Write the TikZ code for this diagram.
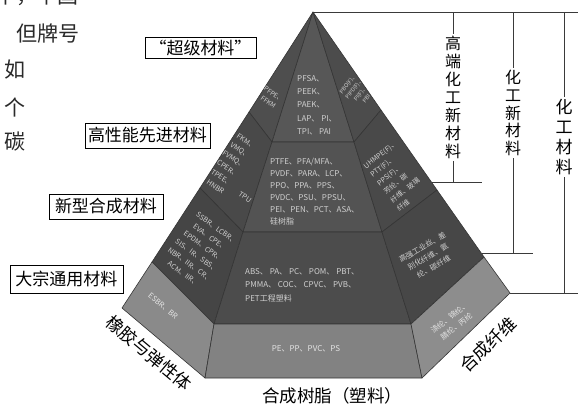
\documentclass[tikz,border=0pt]{standalone}
\usepackage{fontspec}
\setmainfont{Noto Sans CJK SC}
\usepackage{tikz}
\definecolor{edgec}{HTML}{353535}
\definecolor{txtc}{HTML}{D0D0D0}
\definecolor{lighttxt}{HTML}{E4E4E4}
\definecolor{brkc}{HTML}{3A3A3A}
\definecolor{bodytxt}{HTML}{2A2A2A}
\definecolor{fTl}{HTML}{4E4E4E}
\definecolor{fTf}{HTML}{575757}
\definecolor{fTr}{HTML}{4C4C4C}
\definecolor{fSl}{HTML}{494949}
\definecolor{fSf}{HTML}{535353}
\definecolor{fSr}{HTML}{494949}
\definecolor{fNl}{HTML}{454545}
\definecolor{fNf}{HTML}{4C4C4C}
\definecolor{fNr}{HTML}{474747}
\definecolor{fBl}{HTML}{8A8A8A}
\definecolor{fBf}{HTML}{828282}
\definecolor{fBr}{HTML}{8D8D8D}
\begin{document}
\begin{tikzpicture}[x=1pt,y=-1pt,
  face/.style={draw=edgec,line width=0.6pt,line join=round},
  ptxt/.style={text=txtc,inner sep=0pt,font=\fontsize{7.5}{10.5}\selectfont},
  ltxt/.style={text=lighttxt,inner sep=0pt,font=\fontsize{7.5}{10.5}\selectfont},
  lbl/.style={draw=black,line width=0.8pt,fill=white,inner sep=0pt,text=black,font=\fontsize{17}{17}\selectfont},
  vlbl/.style={align=center,inner sep=2pt,text=black,font=\fontsize{16}{17.9}\selectfont},
  brk/.style={draw=brkc,line width=0.9pt},
  bodyfrag/.style={text=bodytxt,inner sep=0pt,font=\fontsize{21}{21}\selectfont},
  sidelbl/.style={text=black,inner sep=0pt,font=\fontsize{17.5}{17.5}\selectfont}
]
\useasboundingbox (0,0) rectangle (582,408);
\fill[white] (0,0) rectangle (582,408);

% ---------- pyramid vertices ----------
\coordinate (A) at (313,12);
\coordinate (O1) at (249,112);
\coordinate (O2) at (200,188);
\coordinate (O3) at (152,262);
\coordinate (LB) at (122,308);
\coordinate (C1) at (272,142);
\coordinate (C2) at (243,232);
\coordinate (C3) at (214,324);
\coordinate (FBL) at (205,378);
\coordinate (D1) at (354,142);
\coordinate (D2) at (382,232);
\coordinate (D3) at (411,324);
\coordinate (FBR) at (422,378);
\coordinate (Q1) at (381,110);
\coordinate (Q2) at (437,190);
\coordinate (R0) at (484,257);
\coordinate (RB) at (510,293);

% ---------- faces ----------
\fill[fTl,face] (A) -- (O1) -- (C1) -- cycle;
\fill[fTf,face] (A) -- (C1) -- (D1) -- cycle;
\fill[fTr,face] (A) -- (D1) -- (Q1) -- cycle;
\fill[fSl,face] (O1) -- (C1) -- (C2) -- (O2) -- cycle;
\fill[fSf,face] (C1) -- (D1) -- (D2) -- (C2) -- cycle;
\fill[fSr,face] (D1) -- (Q1) -- (Q2) -- (D2) -- cycle;
\fill[fNl,face] (O2) -- (C2) -- (C3) -- (O3) -- cycle;
\fill[fNf,face] (C2) -- (D2) -- (D3) -- (C3) -- cycle;
\fill[fNr,face] (D2) -- (Q2) -- (R0) -- (D3) -- cycle;
\fill[fBl,face] (O3) -- (C3) -- (FBL) -- (LB) -- cycle;
\fill[fBf,face] (C3) -- (D3) -- (FBR) -- (FBL) -- cycle;
\fill[fBr,face] (D3) -- (R0) -- (RB) -- (FBR) -- cycle;

% ---------- texts on the faces ----------
\node[ptxt,align=left,anchor=north west,font=\fontsize{8}{13.3}\selectfont] (tf) at (297,75)
  {PFSA、\\PEEK、\\PAEK、\\LAP、 PI、\\TPI、 PAI};
\node[ptxt,rotate=-35,align=center,font=\fontsize{6.5}{9.5}\selectfont] (tl) at (271,98)
  {PFPE、\\FFKM};
\node[ptxt,rotate=52,align=center,font=\fontsize{5.5}{7.8}\selectfont] (tr) at (357,91)
  {PBO(F)、\\PIPD(F)、\\PI(F)、\\PBI};

\node[ptxt,align=left,anchor=north west,font=\fontsize{8}{12}\selectfont] (sf) at (270,158)
  {PTFE、PFA/MFA、\\PVDF、PARA、LCP、\\PPO、PPA、PPS、\\PVDC、PSU、PPSU、\\PEI、PEN、PCT、ASA、\\硅树脂};
\node[ptxt,rotate=-34,align=center,font=\fontsize{7}{11}\selectfont] (sl) at (231,164)
  {FKM、\\VMQ、\\FVMQ、\\CPER、\\TPEE、\\HNBR};
\node[ptxt,rotate=-34,font=\fontsize{7}{11}\selectfont] (sl2) at (245,197) {TPU};
\node[ptxt,rotate=38,align=left,font=\fontsize{7}{10.8}\selectfont] (sr) at (397,176)
  {UHMPE(F)、\\PTT(F)、\\PPS(F)、\\芳纶、碳\\纤维、玻璃\\纤维};

\node[ptxt,align=left,anchor=north west,font=\fontsize{8}{13.8}\selectfont] (nf) at (245,268)
  {ABS、 PA、 PC、 POM、 PBT、\\PMMA、 COC、 CPVC、 PVB、\\PET工程塑料};
\node[ptxt,rotate=-36,align=center,font=\fontsize{7}{11.3}\selectfont] (nl) at (200,251)
  {SSBR、LCBR、\\EVA、CPE、\\EPDM、CPR、\\SIS、IR、SBS、\\NBR、IIR、CR、\\ACM、IIR、};
\node[ptxt,rotate=30,align=center,font=\fontsize{7.5}{11.3}\selectfont] (nr) at (428,257)
  {高强工业丝、差\\别化纤维、氨\\纶、碳纤维};

\node[ltxt,font=\fontsize{8}{10}\selectfont] (bf) at (306,349) {PE、PP、PVC、PS};
\node[ltxt,rotate=-40] (bl) at (163,306) {ESBR、BR};
\node[ltxt,rotate=38,align=center,font=\fontsize{7.5}{11}\selectfont] (br) at (453,322) {涤纶、锦纶、\\腈纶、丙纶};

% ---------- side / bottom labels ----------
\node[sidelbl] (resin) at (332,396) {合成树脂（塑料）};
\node[sidelbl,rotate=-40] (rubber) at (149,353) {橡胶与弹性体};
\node[sidelbl,rotate=43.5] (fibre) at (488,345) {合成纤维};

% ---------- level boxes ----------
\node[lbl,minimum width=111,minimum height=21] (super) at (200.5,47.5) {“超级材料”};
\node[lbl,minimum width=125,minimum height=25] (high) at (147.5,135.5) {高性能先进材料};
\node[lbl,minimum width=114,minimum height=25] (newm) at (106,206.5) {新型合成材料};
\node[lbl,minimum width=113,minimum height=28] (bulk) at (66.5,279) {大宗通用材料};

% ---------- brackets on the right ----------
\coordinate (TR) at (578,12);
\draw[brk] (A) -- (TR);

\node[vlbl] (h1) at (453,97.5) {高\\端\\化\\工\\新\\材\\料};
\coordinate (h1t) at (453,12);
\coordinate (h1b) at (453,182);
\coordinate (k1a) at (432,182);
\coordinate (k1b) at (482,182);
\draw[brk] (h1t) -- (h1.north);
\draw[brk] (h1.south) -- (h1b);
\draw[brk] (k1a) -- (k1b);

\node[vlbl] (h2) at (513,113) {化\\工\\新\\材\\料};
\coordinate (h2t) at (513,12);
\coordinate (h2b) at (513,253);
\coordinate (k2a) at (482,253);
\coordinate (k2b) at (533,253);
\draw[brk] (h2t) -- (h2.north);
\draw[brk] (h2.south) -- (h2b);
\draw[brk] (k2a) -- (k2b);

\node[vlbl,font=\fontsize{17}{20}\selectfont] (h3) at (564,137) {化\\工\\材\\料};
\coordinate (h3t) at (564,12);
\coordinate (h3b) at (564,293);
\coordinate (k3b) at (578,293);
\draw[brk] (h3t) -- (h3.north);
\draw[brk] (h3.south) -- (h3b);
\draw[brk] (RB) -- (k3b);

% ---------- fragments of the page text at the left ----------
\node[bodyfrag] (f0) at (37,-4) {中，中国};
\node[bodyfrag] (f1) at (48,34) {但牌号};
\node[bodyfrag] (f2) at (15,70) {如};
\node[bodyfrag] (f3) at (15,107) {个};
\node[bodyfrag] (f4) at (15,142) {碳};
\end{tikzpicture}
\end{document}
